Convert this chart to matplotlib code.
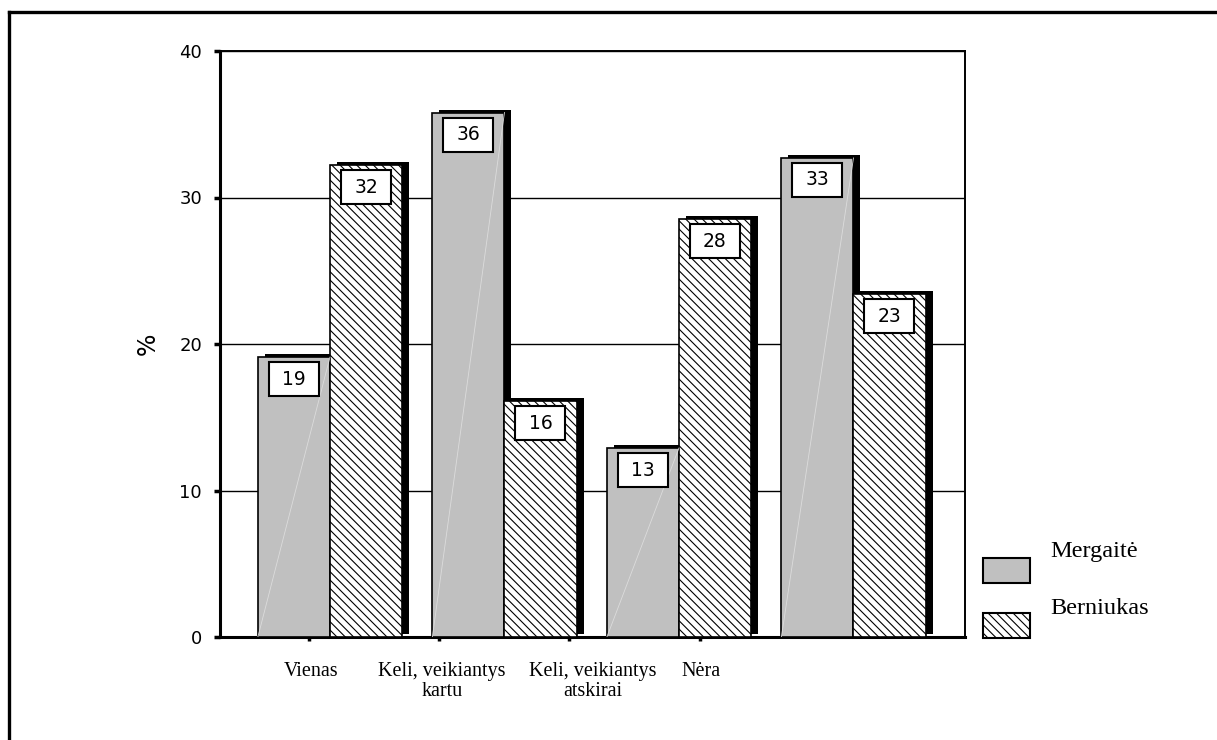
import numpy as np
import matplotlib
matplotlib.use("Agg")
import matplotlib.pyplot as plt
from matplotlib.patches import Rectangle
from matplotlib.lines import Line2D
from matplotlib.transforms import ScaledTranslation, offset_copy

categories = ["Vienas", "Keli, veikiantys\nkartu", "Keli, veikiantys\natskirai", "Nėra"]
mergaite = [19.1, 35.8, 12.9, 32.7]
berniukas = [32.2, 16.1, 28.5, 23.4]
mergaite_lbl = ["19", "36", "13", "33"]
berniukas_lbl = ["32", "16", "28", "23"]
series_names = ["Mergaitė", "Berniukas"]

plt.rcParams["hatch.linewidth"] = 0.8

fig = plt.figure(figsize=(12.17, 7.40), dpi=100)
ax = fig.add_axes([220 / 1217, 103 / 740, 745 / 1217, 586 / 740])

x = np.arange(len(categories))
w = 0.413
left_m = x - w
left_b = x

# shadows (offset right/up in pixels)
shadow_tr = offset_copy(ax.transData, fig=fig, x=7, y=3, units="dots")
for lefts, vals in ((left_m, mergaite), (left_b, berniukas)):
    sh = ax.bar(lefts, vals, width=w, align="edge", color="black", zorder=2)
    for p in sh.patches:
        p.set_transform(shadow_tr)

ax.bar(left_m, mergaite, width=w, align="edge", color="#c0c0c0",
       edgecolor="black", linewidth=1.2, zorder=3)
ax.bar(left_b, berniukas, width=w, align="edge", color="white",
       edgecolor="black", linewidth=1.2, hatch="\\\\\\\\", zorder=3)

# faint diagonal artefact lines in grey bars
for l, v in zip(left_m, mergaite):
    ax.plot([l, l + w], [0, v], color="#dcdcdc", lw=0.6, zorder=4)

# value boxes at top-left of each bar
for lefts, vals, lbls in ((left_m, mergaite, mergaite_lbl), (left_b, berniukas, berniukas_lbl)):
    for l, v, t in zip(lefts, vals, lbls):
        tr = fig.dpi_scale_trans + ScaledTranslation(l, v, ax.transData)
        ax.add_artist(Rectangle((0.11, -0.39), 0.50, 0.34, transform=tr,
                                facecolor="white", edgecolor="black", lw=1.5, zorder=5))
        ax.text(0.36, -0.22, t, transform=tr, ha="center", va="center",
                fontsize=13.5, family="DejaVu Sans", zorder=6)

ax.set_xlim(-0.630, 3.639)
ax.set_ylim(0, 40)
ax.set_yticks([0, 10, 20, 30, 40])
ax.yaxis.grid(True, color="black", lw=1.0)
ax.set_axisbelow(True)

# labels centred where the original puts them, little square ticks slightly apart
label_pos = [-0.109, 0.642, 1.507, 2.126]
square_pos = [-0.12, 0.625, 1.37, 2.12]
ax.set_xticks(label_pos)
ax.set_xticklabels(categories, family="Liberation Serif", fontsize=14.5, linespacing=1.05)
ax.set_xticks(square_pos, minor=True)
ax.tick_params(axis="x", which="major", length=0, pad=18)
ax.tick_params(axis="x", which="minor", length=3, width=2.5)
ax.tick_params(axis="y", length=4, width=2.5, pad=9, labelsize=13)

ax.spines["left"].set_linewidth(2.2)
ax.spines["bottom"].set_linewidth(2.2)
ax.spines["top"].set_linewidth(1.4)
ax.spines["right"].set_linewidth(1.4)

ax.set_ylabel("%", fontsize=17, labelpad=14)

# legend drawn by hand
fig_px = fig.transFigure
def px(xp, yp):
    return xp / 1217, 1 - yp / 740

sw_w, sw_h = 47 / 1217, 25 / 740
x0, y0 = px(983, 583)
fig.add_artist(Rectangle((x0, y0), sw_w, sw_h, transform=fig_px,
                         facecolor="#c0c0c0", edgecolor="black", lw=1.5))
x0, y0 = px(983, 638)
fig.add_artist(Rectangle((x0, y0), sw_w, sw_h, transform=fig_px,
                         facecolor="white", edgecolor="black", lw=1.5, hatch="\\\\\\\\"))
tx, ty = px(1050, 552)
fig.text(tx, ty, series_names[0], family="Liberation Serif", fontsize=17.5, va="center")
tx, ty = px(1050, 608)
fig.text(tx, ty, series_names[1], family="Liberation Serif", fontsize=17.5, va="center")

# outer frame (top and left)
fig.add_artist(Line2D([9 / 1217, 1], [1 - 12 / 740, 1 - 12 / 740], color="black", lw=2.4,
                      transform=fig_px))
fig.add_artist(Line2D([9 / 1217, 9 / 1217], [0, 1 - 12 / 740], color="black", lw=2.4,
                      transform=fig_px))

fig.savefig("out.png", dpi=100)
plt.close(fig)
